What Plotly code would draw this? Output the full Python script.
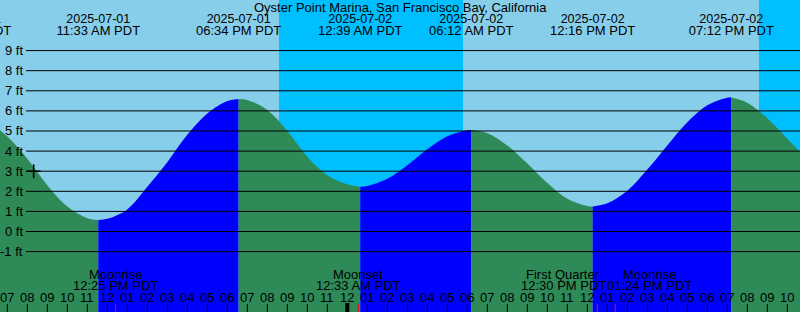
import plotly.graph_objects as go
import pandas as pd

title = "Oyster Point Marina, San Francisco Bay, California"

# Tide heights at each hour (local time, PDT)
tide_times = [
    "2025-07-01 06:00", "2025-07-01 07:00", "2025-07-01 08:00", "2025-07-01 09:00",
    "2025-07-01 10:00", "2025-07-01 11:00",
    "2025-07-01 12:00", "2025-07-01 13:00", "2025-07-01 14:00", "2025-07-01 15:00",
    "2025-07-01 16:00", "2025-07-01 17:00", "2025-07-01 18:00",
    "2025-07-01 19:00", "2025-07-01 20:00", "2025-07-01 21:00", "2025-07-01 22:00",
    "2025-07-01 23:00", "2025-07-02 00:00",
    "2025-07-02 01:00", "2025-07-02 02:00", "2025-07-02 03:00", "2025-07-02 04:00",
    "2025-07-02 05:00", "2025-07-02 06:00",
    "2025-07-02 07:00", "2025-07-02 08:00", "2025-07-02 09:00", "2025-07-02 10:00",
    "2025-07-02 11:00", "2025-07-02 12:00",
    "2025-07-02 13:00", "2025-07-02 14:00", "2025-07-02 15:00", "2025-07-02 16:00",
    "2025-07-02 17:00", "2025-07-02 18:00", "2025-07-02 19:00",
    "2025-07-02 20:00", "2025-07-02 21:00", "2025-07-02 22:00", "2025-07-02 22:40",
]
tide_ft = [
    5.45, 4.72, 3.62, 2.3,
    1.24, 0.66,
    0.63, 1.1, 2.22, 3.45,
    4.81, 5.87, 6.49,
    6.54, 6.04, 5.0, 3.72,
    2.8, 2.35,
    2.26, 2.62, 3.3, 4.09,
    4.74, 5.04,
    4.89, 4.28, 3.38, 2.41,
    1.63, 1.27,
    1.4, 2.03, 3.08, 4.28,
    5.43, 6.28, 6.66,
    6.41, 5.63, 4.62, 3.93,
]

# High / low tide extremes
ext_times = ["2025-07-01 05:05", "2025-07-01 11:33", "2025-07-01 18:34", "2025-07-02 00:39",
             "2025-07-02 06:12", "2025-07-02 12:16", "2025-07-02 19:12"]
ext_ft = [5.7, 0.57, 6.59, 2.23, 5.05, 1.24, 6.67]
ext_date_labels = ["2025-07-01", "2025-07-01", "2025-07-01", "2025-07-02",
                   "2025-07-02", "2025-07-02", "2025-07-02"]
ext_time_labels = ["05:05 AM PDT", "11:33 AM PDT", "06:34 PM PDT", "12:39 AM PDT",
                   "06:12 AM PDT", "12:16 PM PDT", "07:12 PM PDT"]

# Night (sunset -> sunrise)
night_start = ["2025-07-01 20:35", "2025-07-02 20:35"]
night_end = ["2025-07-02 05:47", "2025-07-03 05:47"]

# Moon events
moon_times = ["2025-07-01 12:25", "2025-07-02 00:33", "2025-07-02 12:30", "2025-07-02 13:24"]
moon_events = ["Moonrise", "Moonset", "First Quarter", "Moonrise"]
moon_labels = ["12:25 PM PDT", "12:33 AM PDT", "12:30 PM PDT", "01:24 PM PDT"]

# Current-time marker
marker_time = ["2025-07-01 08:19"]
marker_ft = [3.0]

ytick_vals = [-1, 0, 1, 2, 3, 4, 5, 6, 7, 8, 9]
ytick_text = ["-1 ft", "0 ft", "1 ft", "2 ft", "3 ft", "4 ft", "5 ft", "6 ft", "7 ft", "8 ft", "9 ft"]

x_start = "2025-07-01 06:38:06"
x_end = "2025-07-02 22:38:06"

# ---------------- layout constants ----------------
W, H = 800, 312
Y_BOT, Y_TOP = -4.005, 11.517
FONT = "Liberation Sans"
FS = 13
DAY = "#87CEEB"
NIGHT = "#00BFFF"
FALL = "#2E8B57"
RISE = "#0000FF"
LABEL_W = 86  # width of a moon-event label, px

x0_ts, x1_ts = pd.Timestamp(x_start), pd.Timestamp(x_end)
px_per_sec = W / (x1_ts - x0_ts).total_seconds()


def ypx(px):
    return Y_TOP - px * (Y_TOP - Y_BOT) / H


def ppx(px):
    return 1 - px / H


fig = go.Figure()

# --- tide segments between extremes ---
pts = sorted(
    [(pd.Timestamp(t), v, False) for t, v in zip(tide_times, tide_ft)]
    + [(pd.Timestamp(t), v, True) for t, v in zip(ext_times, ext_ft)],
    key=lambda p: p[0],
)
pts = [p for p in pts if p[0] >= pd.Timestamp(ext_times[0])]
segments = []
cur = []
for p in pts:
    cur.append(p)
    if p[2]:
        if len(cur) > 1:
            segments.append(cur)
        cur = [p]
if len(cur) > 1:
    segments.append(cur)

for seg in segments:
    xs = [p[0] for p in seg]
    ys = [p[1] for p in seg]
    color = RISE if ys[-1] > ys[0] else FALL
    fig.add_trace(go.Scatter(x=[xs[0], xs[-1]], y=[-6, -6], mode="lines",
                             line=dict(width=0), hoverinfo="skip", showlegend=False))
    fig.add_trace(go.Scatter(x=xs, y=ys, mode="lines",
                             line=dict(width=0, shape="spline", smoothing=1, color=color),
                             fill="tonexty", fillcolor=color,
                             hoverinfo="skip", showlegend=False))

# --- top extreme labels (text traces, so a partly visible label is clipped) ---
fig.add_trace(go.Scatter(x=ext_times, y=[ypx(20)] * len(ext_times), mode="text",
                         text=ext_date_labels, textposition="middle center",
                         textfont=dict(family=FONT, size=12.5, color="black"),
                         cliponaxis=True, hoverinfo="skip", showlegend=False))
fig.add_trace(go.Scatter(x=ext_times, y=[ypx(32)] * len(ext_times), mode="text",
                         text=ext_time_labels, textposition="middle center",
                         textfont=dict(family=FONT, size=FS, color="black"),
                         cliponaxis=True, hoverinfo="skip", showlegend=False))

# --- current marker ---
fig.add_trace(go.Scatter(x=marker_time, y=marker_ft, mode="markers",
                         marker=dict(symbol="cross-thin", size=10,
                                     line=dict(width=1.5, color="black")),
                         hoverinfo="skip", showlegend=False))

shapes = []
for s, e in zip(night_start, night_end):
    shapes.append(dict(type="rect", xref="x", yref="paper", x0=s, x1=e, y0=0, y1=1,
                       fillcolor=NIGHT, line=dict(width=0), layer="below"))
for v in ytick_vals:
    shapes.append(dict(type="line", xref="paper", yref="y", x0=26 / W, x1=1, y0=v, y1=v,
                       line=dict(color="black", width=1), layer="above"))

annotations = []
for v, t in zip(ytick_vals, ytick_text):
    annotations.append(dict(xref="paper", yref="y", x=25 / W, y=v, text=t,
                            xanchor="right", yanchor="middle", showarrow=False,
                            font=dict(family=FONT, size=FS, color="black")))

hours = pd.date_range("2025-07-01 07:00", "2025-07-02 22:00", freq="h")
for h in hours:
    midnight = h.hour == 0
    shapes.append(dict(type="line", xref="x", yref="paper", x0=h, x1=h,
                       y0=0, y1=(9 if midnight else 8) / H,
                       line=dict(color="black", width=4 if midnight else 1), layer="above"))
    annotations.append(dict(xref="x", yref="paper", x=h, y=ppx(297.5), text=h.strftime("%I"),
                            xanchor="center", yanchor="middle", showarrow=False,
                            font=dict(family=FONT, size=FS, color="black")))

# moon events: labels that would collide are pushed apart symmetrically
mt = [pd.Timestamp(t) for t in moon_times]
shifts = [0.0] * len(mt)
for i in range(len(mt) - 1):
    d = (mt[i + 1] - mt[i]).total_seconds() * px_per_sec
    if d < LABEL_W:
        push = (LABEL_W - d) / 2
        shifts[i] -= push
        shifts[i + 1] += push

for t, ev, lab, sh in zip(moon_times, moon_events, moon_labels, shifts):
    shapes.append(dict(type="line", xref="x", yref="paper", x0=t, x1=t, y0=0, y1=8 / H,
                       line=dict(color="red", width=1), layer="above"))
    annotations.append(dict(xref="x", yref="paper", x=t, y=ppx(274), text=ev, xshift=sh,
                            xanchor="center", yanchor="middle", showarrow=False,
                            font=dict(family=FONT, size=FS, color="black")))
    annotations.append(dict(xref="x", yref="paper", x=t, y=ppx(285.7), text=lab, xshift=sh,
                            xanchor="center", yanchor="middle", showarrow=False,
                            font=dict(family=FONT, size=FS, color="black")))

annotations.append(dict(xref="paper", yref="paper", x=0.5, y=ppx(7.5), text=title,
                        xanchor="center", yanchor="middle", showarrow=False,
                        font=dict(family=FONT, size=FS, color="black")))

fig.update_layout(
    width=W, height=H,
    margin=dict(l=0, r=0, t=0, b=0),
    paper_bgcolor=DAY, plot_bgcolor=DAY,
    showlegend=False,
    xaxis=dict(range=[x_start, x_end], visible=False, showgrid=False, zeroline=False),
    yaxis=dict(range=[Y_BOT, Y_TOP], visible=False, showgrid=False, zeroline=False),
    shapes=shapes,
    annotations=annotations,
)

fig.write_html("out.html")
